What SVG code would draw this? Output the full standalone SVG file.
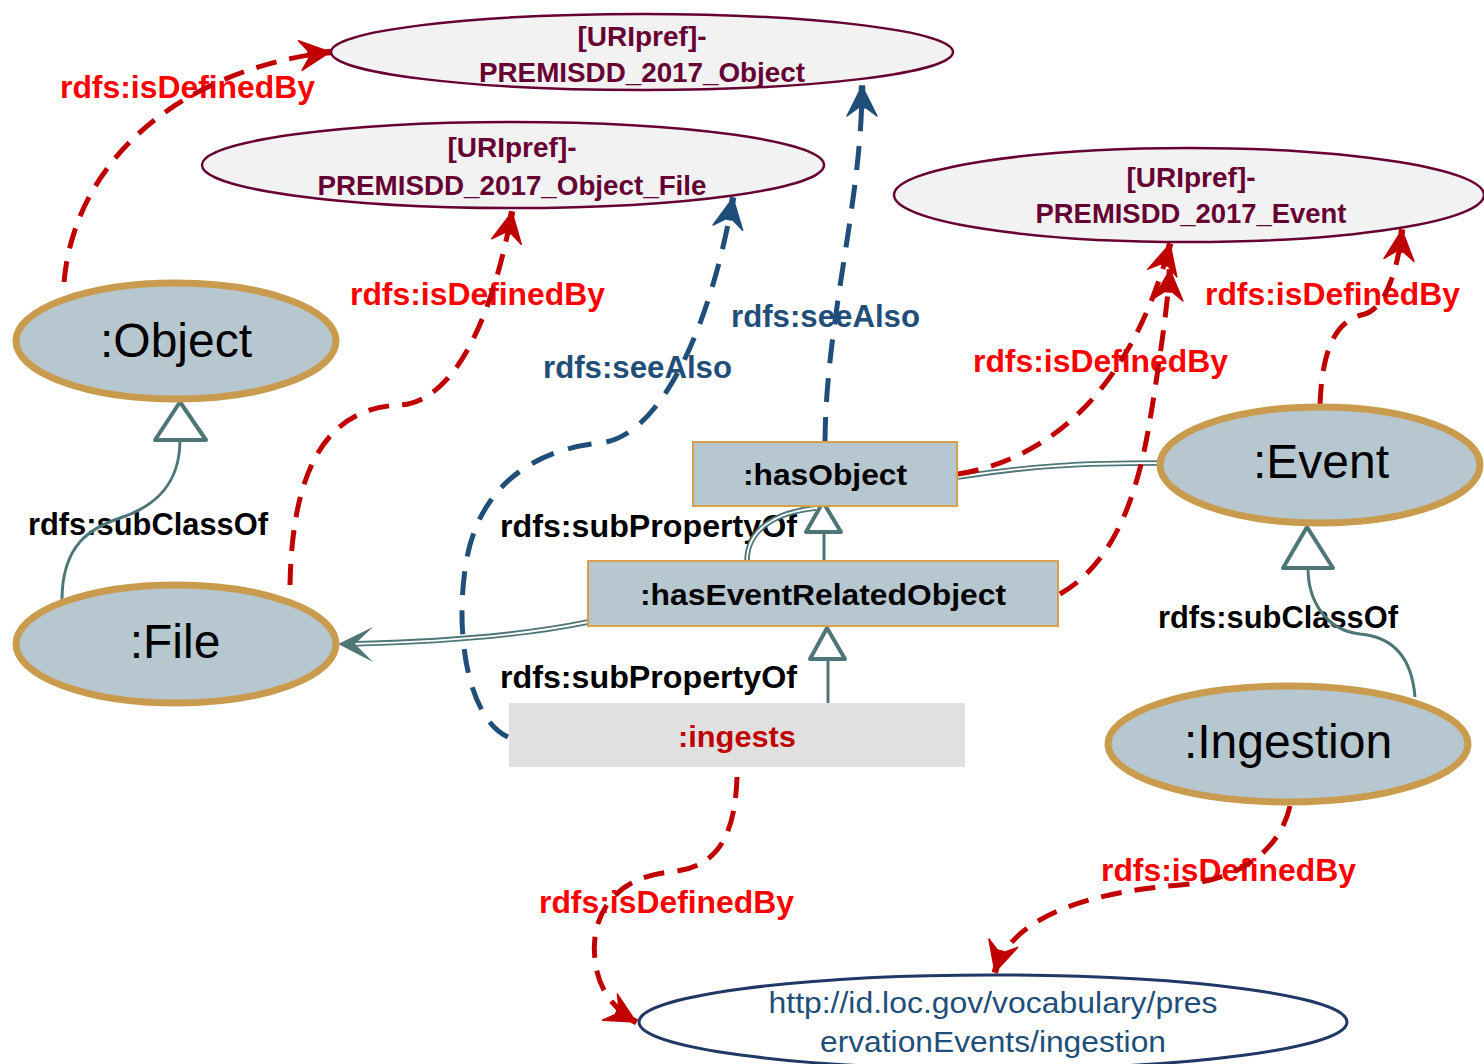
<svg xmlns="http://www.w3.org/2000/svg" width="1484" height="1064" viewBox="0 0 1484 1064">
<style>
.cls ellipse{fill:#b7c7cf;stroke:#c99b4f;stroke-width:7}
.cls text{font-family:"Liberation Sans",Arial,sans-serif;font-size:48px;fill:#000;text-anchor:middle}
.uri ellipse{fill:#f2f2f2;stroke:#660033;stroke-width:2.5}
.uri text{font-family:"Liberation Sans",Arial,sans-serif;font-weight:bold;font-size:28px;fill:#660033;text-anchor:middle}
.prop rect{fill:#b7c7cf;stroke:#d6a04c;stroke-width:2}
.prop text{font-family:"Liberation Sans",Arial,sans-serif;font-weight:bold;font-size:30px;fill:#000;text-anchor:middle}
.lbl{font-family:"Liberation Sans",Arial,sans-serif;font-weight:bold;font-size:31px}
.red{fill:#ff0000}
.blu{fill:#1f4e79}
.blk{fill:#000}
.dr{fill:none;stroke:#c00000;stroke-width:5;stroke-dasharray:21 13}
.db{fill:none;stroke:#1f4e79;stroke-width:5;stroke-dasharray:24 15}
.tl{fill:none;stroke:#4f7676;stroke-width:3}
.tri{fill:#fff;stroke:#4f7676;stroke-width:4;stroke-linejoin:round}
.dbl1{fill:none;stroke:#4f7676;stroke-width:5.5}
.dbl2{fill:none;stroke:#fff;stroke-width:1.8}
</style>
<defs>
<marker id="arrRed" viewBox="-36 -20 40 40" refX="0" refY="0" markerWidth="40" markerHeight="40" markerUnits="userSpaceOnUse" orient="auto">
<path d="M0,0 L-30,-15 L-19,0 L-30,15 Z M0,-2.5 L-22,-2.5 L-22,2.5 L0,2.5 Z" fill="#c00000" stroke="#c00000" stroke-width="1.5" stroke-linejoin="round"/>
</marker>
<marker id="arrBlue" viewBox="-36 -20 40 40" refX="0" refY="0" markerWidth="40" markerHeight="40" markerUnits="userSpaceOnUse" orient="auto">
<path d="M0,0 L-30,-15 L-19,0 L-30,15 Z M0,-2.5 L-22,-2.5 L-22,2.5 L0,2.5 Z" fill="#1f4e79" stroke="#1f4e79" stroke-width="1.5" stroke-linejoin="round"/>
</marker>
</defs>
<rect width="1484" height="1064" fill="#fff"/>

<g id="connectors">
<text class="lbl red" x="60" y="98" textLength="255" lengthAdjust="spacingAndGlyphs">rdfs:isDefinedBy</text>
<text class="lbl red" x="350" y="305" textLength="255" lengthAdjust="spacingAndGlyphs">rdfs:isDefinedBy</text>
<text class="lbl blu" x="543" y="378" textLength="189" lengthAdjust="spacingAndGlyphs">rdfs:seeAlso</text>
<text class="lbl blu" x="731" y="327" textLength="189" lengthAdjust="spacingAndGlyphs">rdfs:seeAlso</text>
<text class="lbl red" x="973" y="372" textLength="255" lengthAdjust="spacingAndGlyphs">rdfs:isDefinedBy</text>
<text class="lbl red" x="1205" y="305" textLength="255" lengthAdjust="spacingAndGlyphs">rdfs:isDefinedBy</text>
<text class="lbl blk" x="28" y="535" textLength="240" lengthAdjust="spacingAndGlyphs">rdfs:subClassOf</text>
<text class="lbl blk" x="1158" y="628" textLength="240" lengthAdjust="spacingAndGlyphs">rdfs:subClassOf</text>
<text class="lbl blk" x="500" y="537" textLength="297" lengthAdjust="spacingAndGlyphs">rdfs:subPropertyOf</text>
<text class="lbl blk" x="500" y="688" textLength="297" lengthAdjust="spacingAndGlyphs">rdfs:subPropertyOf</text>
<text class="lbl red" x="539" y="913" textLength="255" lengthAdjust="spacingAndGlyphs">rdfs:isDefinedBy</text>
<text class="lbl red" x="1101" y="881" textLength="255" lengthAdjust="spacingAndGlyphs">rdfs:isDefinedBy</text>

<!-- double lines -->
<path class="dbl1" d="M958,477 C1030,466 1080,463 1160,463"/>
<path class="dbl2" d="M958,477 C1030,466 1080,463 1160,463"/>
<path class="dbl1" d="M588,622 C520,636 440,642 350,644"/>
<path class="dbl2" d="M588,622 C520,636 440,642 350,644"/>
<path d="M338,644 L373,627 L355,644 L373,662 Z" fill="#4f7676"/>
<path class="dbl1" d="M747,561 C747,530 775,512 816,508"/>
<path class="dbl2" d="M747,561 C747,530 775,512 816,508"/>

<!-- subClassOf / subPropertyOf -->
<path class="tl" d="M62,600 C62,545 90,528 120,518 C160,505 180,480 180,440"/>
<polygon class="tri" points="180,402 155,440 206,440"/>
<path class="tl" d="M1415,697 C1412,660 1395,637 1360,634 C1325,630 1308,600 1308,568"/>
<polygon class="tri" points="1307,527 1283,568 1333,568"/>
<path class="tl" d="M824,532 L824,562"/>
<polygon class="tri" points="823,502 806,532 841,532"/>
<path class="tl" d="M828,659 L828,703"/>
<polygon class="tri" points="827,628 810,659 845,659"/>

<!-- isDefinedBy -->
<path class="dr" d="M64,282 C75,160 180,70 330,52" marker-end="url(#arrRed)"/>
<path class="dr" d="M290,585 C292,480 320,408 400,405 C450,402 490,330 512,212" marker-end="url(#arrRed)"/>
<path class="dr" d="M958,474 C1045,460 1130,395 1170,244" marker-end="url(#arrRed)"/>
<path class="dr" d="M1060,594 C1120,560 1140,480 1150,420 C1160,360 1168,300 1170,270" marker-end="url(#arrRed)"/>
<path class="dr" d="M1320,405 C1322,350 1335,320 1365,314 C1385,308 1398,270 1402,230" marker-end="url(#arrRed)"/>
<path class="dr" d="M737,777 C735,840 715,868 670,872 C610,878 590,920 595,960 C598,990 615,1010 636,1022" marker-end="url(#arrRed)"/>
<path class="dr" d="M1290,806 C1280,850 1240,880 1180,885 C1080,893 1010,920 995,972" marker-end="url(#arrRed)"/>

<!-- seeAlso -->
<path class="db" d="M508,737 C470,720 455,640 465,570 C475,490 530,450 600,443 C660,437 710,330 733,198" marker-end="url(#arrBlue)"/>
<path class="db" d="M825,441 C826,320 862,200 862,86" marker-end="url(#arrBlue)"/>
</g>

<g id="uri-object" class="uri">
<ellipse cx="642" cy="52" rx="311" ry="38"/>
<text x="642" y="46">[URIpref]-</text>
<text x="642" y="82" textLength="326" lengthAdjust="spacingAndGlyphs">PREMISDD_2017_Object</text>
</g>
<g id="uri-object-file" class="uri">
<ellipse cx="513" cy="165" rx="311" ry="43"/>
<text x="512" y="157">[URIpref]-</text>
<text x="512" y="195" textLength="389" lengthAdjust="spacingAndGlyphs">PREMISDD_2017_Object_File</text>
</g>
<g id="uri-event" class="uri">
<ellipse cx="1189" cy="195" rx="295" ry="47"/>
<text x="1191" y="187">[URIpref]-</text>
<text x="1191" y="223" textLength="311" lengthAdjust="spacingAndGlyphs">PREMISDD_2017_Event</text>
</g>

<g id="object" class="cls">
<ellipse cx="176" cy="341" rx="160" ry="58"/>
<text x="176" y="357">:Object</text>
</g>
<g id="file" class="cls">
<ellipse cx="176" cy="644" rx="160" ry="59"/>
<text x="175" y="658">:File</text>
</g>
<g id="event" class="cls">
<ellipse cx="1320" cy="465" rx="160" ry="58"/>
<text x="1321" y="478">:Event</text>
</g>
<g id="ingestion" class="cls">
<ellipse cx="1288" cy="744" rx="180" ry="58"/>
<text x="1288" y="758">:Ingestion</text>
</g>

<g id="hasObject" class="prop">
<rect x="693" y="442" width="264" height="64"/>
<text x="825" y="485" textLength="164" lengthAdjust="spacingAndGlyphs">:hasObject</text>
</g>
<g id="hasEventRelatedObject" class="prop">
<rect x="588" y="561" width="470" height="65"/>
<text x="823" y="605" textLength="366" lengthAdjust="spacingAndGlyphs">:hasEventRelatedObject</text>
</g>
<g id="ingests">
<rect x="509" y="703" width="456" height="64" fill="#e0e0e0"/>
<text x="737" y="747" font-family="'Liberation Sans',Arial,sans-serif" font-weight="bold" font-size="30" fill="#c00000" text-anchor="middle" textLength="118" lengthAdjust="spacingAndGlyphs">:ingests</text>
</g>

<g id="uri-ingestion">
<ellipse cx="993" cy="1022" rx="354" ry="47" fill="#fff" stroke="#1f3864" stroke-width="3"/>
<text x="993" y="1013" font-family="'Liberation Sans',Arial,sans-serif" font-size="30" fill="#1f4e79" text-anchor="middle" textLength="449" lengthAdjust="spacingAndGlyphs">http://id.loc.gov/vocabulary/pres</text>
<text x="993" y="1052" font-family="'Liberation Sans',Arial,sans-serif" font-size="30" fill="#1f4e79" text-anchor="middle" textLength="346" lengthAdjust="spacingAndGlyphs">ervationEvents/ingestion</text>
</g>
</svg>
